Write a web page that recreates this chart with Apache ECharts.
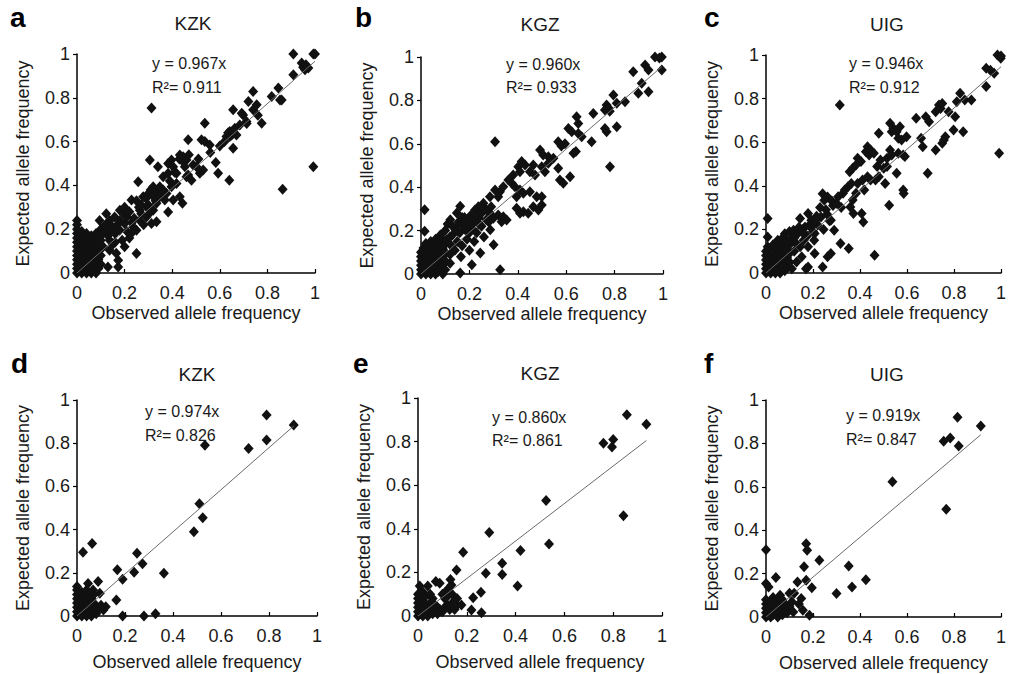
<!DOCTYPE html>
<html>
<head>
<meta charset="utf-8">
<script src="https://cdn.jsdelivr.net/npm/echarts@6/dist/echarts.min.js"></script>
<style>
html,body{margin:0;padding:0;background:#fff;}
#chart{width:1009px;height:674px;}
</style>
</head>
<body>
<div id="chart"></div>
<script>
// ---------- DATA ----------
const panelLetters = ['a','b','c','d','e','f'];
const populations = ['KZK','KGZ','UIG','KZK','KGZ','UIG'];
const slopes = [0.967, 0.960, 0.946, 0.974, 0.860, 0.919];
const r2Values = ['0.911','0.933','0.912','0.826','0.861','0.847'];
const axisTicks = [0, 0.2, 0.4, 0.6, 0.8, 1];

const pointsA = [
[0,0],[0,0.02],[0,0.04],[0,0.06],[0,0.08],[0,0.1],[0,0.12],[0,0.14],[0,0.16],[0,0.18],[0,0.2],[0,0.22],[0,0.24],
[0.01,0.01],[0.01,0.05],[0.01,0.09],[0.01,0.13],[0.01,0.17],
[0.02,0],[0.02,0.03],[0.02,0.07],[0.02,0.11],[0.02,0.15],[0.02,0.19],
[0.03,0.02],[0.03,0.05],[0.03,0.09],[0.03,0.12],[0.03,0.16],
[0.04,0],[0.04,0.04],[0.04,0.07],[0.04,0.1],[0.04,0.14],[0.04,0.18],
[0.05,0.01],[0.05,0.05],[0.05,0.08],[0.05,0.12],[0.05,0.16],
[0.06,0],[0.06,0.03],[0.06,0.07],[0.06,0.1],[0.06,0.14],[0.06,0.17],
[0.07,0.02],[0.07,0.05],[0.07,0.09],[0.07,0.12],[0.07,0.16],
[0.08,0],[0.08,0.04],[0.08,0.08],[0.08,0.11],[0.08,0.15],[0.08,0.18],
[0.09,0.02],[0.09,0.06],[0.09,0.1],[0.09,0.13],[0.09,0.17],
[0.1,0.04],[0.1,0.08],[0.1,0.12],[0.1,0.15],[0.1,0.2],
[0.095,0.24],[0.11,0.12],[0.11,0.18],[0.12,0.22],[0.123,0.27],[0.13,0.027],[0.13,0.17],[0.137,0.15],[0.137,0.24],[0.137,0.104],[0.14,0.2],[0.15,0.13],[0.158,0.256],[0.16,0.18],[0.165,0.09],[0.17,0.22],[0.173,0.027],[0.173,0.058],[0.18,0.195],[0.18,0.287],[0.19,0.15],[0.194,0.272],[0.2,0.226],[0.2,0.12],[0.21,0.256],[0.21,0.19],[0.22,0.16],[0.228,0.18],[0.236,0.21],[0.24,0.25],[0.229,0.333],[0.25,0.089],[0.25,0.195],[0.257,0.417],[0.26,0.3],[0.264,0.24],[0.264,0.287],[0.27,0.27],[0.278,0.348],[0.28,0.22],[0.292,0.256],[0.292,0.302],[0.3,0.363],[0.31,0.28],
[0.12,0.19],[0.15,0.21],[0.16,0.14],[0.18,0.24],[0.2,0.3],[0.22,0.28],[0.23,0.23],[0.25,0.33],[0.27,0.31],[0.29,0.34],[0.3,0.31],[0.31,0.38],[0.32,0.35],
[0.306,0.516],[0.313,0.753],[0.313,0.226],[0.32,0.394],[0.32,0.287],[0.33,0.33],[0.334,0.371],[0.334,0.234],[0.334,0.318],[0.34,0.485],[0.348,0.394],[0.35,0.35],[0.362,0.379],[0.362,0.44],[0.369,0.333],[0.376,0.363],[0.383,0.5],[0.383,0.455],[0.383,0.279],[0.39,0.42],[0.397,0.516],[0.397,0.394],[0.404,0.485],[0.404,0.333],[0.41,0.46],[0.418,0.455],[0.418,0.409],[0.43,0.52],[0.432,0.539],[0.432,0.348],[0.439,0.516],[0.443,0.318],[0.446,0.531],[0.453,0.485],[0.46,0.516],[0.46,0.44],[0.467,0.608],[0.467,0.447],[0.47,0.54],[0.481,0.424],[0.488,0.493],
[0.502,0.485],[0.51,0.52],[0.516,0.455],[0.523,0.608],[0.53,0.47],[0.537,0.684],[0.537,0.6],[0.558,0.585],[0.56,0.55],[0.583,0.505],[0.593,0.455],[0.6,0.58],[0.62,0.6],[0.628,0.623],[0.635,0.64],[0.64,0.424],[0.642,0.646],[0.642,0.623],[0.65,0.63],[0.656,0.57],[0.656,0.638],[0.656,0.745],[0.663,0.661],[0.67,0.63],[0.684,0.676],[0.692,0.729],[0.698,0.722],
[0.712,0.692],[0.713,0.683],[0.72,0.783],[0.74,0.829],[0.74,0.745],[0.755,0.768],[0.76,0.72],[0.776,0.684],[0.818,0.806],[0.846,0.845],[0.853,0.79],[0.86,0.79],[0.909,0.905],[0.944,0.959],[0.95,0.94],[0.962,0.951],[0.972,0.936],[0.958,0.928],[0.909,1.0],[0.993,1.0],[1.0,1.0],[0.864,0.382],[0.993,0.485]
];

const pointsB = [
[0,0],[0,0.02],[0,0.04],[0,0.06],[0,0.08],[0,0.1],[0.015,0.104],[0.015,0.197],[0.015,0.296],
[0.01,0.01],[0.01,0.03],[0.01,0.06],[0.01,0.09],[0.01,0.12],
[0.02,0],[0.02,0.02],[0.02,0.05],[0.02,0.08],[0.02,0.11],[0.02,0.14],
[0.03,0.01],[0.03,0.04],[0.03,0.07],[0.03,0.1],[0.03,0.13],
[0.04,0],[0.04,0.03],[0.04,0.06],[0.04,0.09],[0.04,0.12],[0.04,0.15],
[0.05,0.02],[0.05,0.05],[0.05,0.08],[0.05,0.11],[0.05,0.14],
[0.06,0],[0.06,0.03],[0.06,0.06],[0.06,0.1],[0.06,0.13],[0.06,0.16],
[0.07,0.01],[0.07,0.05],[0.07,0.08],[0.07,0.12],[0.07,0.15],
[0.08,0.03],[0.08,0.06],[0.08,0.081],[0.08,0.1],[0.08,0.14],[0.08,0.18],
[0.09,0],[0.09,0.04],[0.09,0.08],[0.09,0.12],[0.09,0.16],
[0.1,0.02],[0.1,0.06],[0.1,0.1],[0.1,0.14],[0.1,0.2],
[0.107,0.158],[0.11,0.23],[0.12,0.05],[0.12,0.09],[0.121,0.25],[0.125,0.13],[0.13,0.18],[0.14,0.21],[0.14,0.11],[0.148,0.281],[0.15,0.15],[0.155,0.24],[0.16,0.19],[0.162,0.005],[0.162,0.312],[0.165,0.08],[0.17,0.13],[0.175,0.22],[0.18,0.26],[0.183,0.204],[0.19,0.16],[0.195,0.24],[0.2,0.11],[0.2,0.19],[0.205,0.27],[0.21,0.043],[0.21,0.21],[0.217,0.235],[0.22,0.15],[0.223,0.295],[0.23,0.19],[0.237,0.31],[0.238,0.258],[0.244,0.28],[0.245,0.097],[0.25,0.22],[0.251,0.281],[0.258,0.326],[0.26,0.17],[0.271,0.295],[0.28,0.24],[0.285,0.28],[0.285,0.356],[0.286,0.204],[0.299,0.257],[0.3,0.135],
[0.12,0.17],[0.13,0.22],[0.15,0.2],[0.17,0.26],[0.19,0.22],[0.2,0.25],[0.22,0.26],[0.24,0.23],[0.26,0.3],[0.27,0.25],[0.29,0.31],
[0.306,0.387],[0.306,0.61],[0.319,0.356],[0.319,0.272],[0.326,0.379],[0.327,0.02],[0.333,0.241],[0.34,0.264],[0.34,0.402],[0.354,0.249],[0.361,0.433],[0.375,0.418],[0.381,0.456],[0.388,0.402],[0.395,0.356],[0.395,0.303],[0.402,0.494],[0.409,0.471],[0.409,0.387],[0.409,0.28],[0.416,0.518],[0.423,0.372],[0.423,0.287],[0.43,0.502],[0.443,0.28],[0.45,0.471],[0.45,0.379],[0.464,0.502],[0.464,0.31],[0.471,0.456],[0.478,0.356],[0.485,0.295],[0.492,0.571],[0.499,0.494],[0.499,0.356],[0.499,0.318],
[0.505,0.548],[0.512,0.471],[0.526,0.54],[0.526,0.51],[0.547,0.533],[0.567,0.487],[0.567,0.61],[0.574,0.433],[0.58,0.59],[0.588,0.418],[0.595,0.6],[0.609,0.671],[0.616,0.448],[0.623,0.656],[0.63,0.556],[0.64,0.565],[0.643,0.725],[0.65,0.694],[0.65,0.648],[0.664,0.633],
[0.705,0.61],[0.712,0.74],[0.76,0.756],[0.76,0.671],[0.767,0.779],[0.767,0.656],[0.775,0.765],[0.78,0.75],[0.781,0.494],[0.795,0.825],[0.809,0.787],[0.809,0.679],[0.843,0.794],[0.877,0.932],[0.898,0.833],[0.912,0.879],[0.926,0.963],[0.94,0.84],[0.94,0.94],[0.967,1.0],[0.985,0.995],[0.995,1.0],[0.995,0.94]
];

const pointsC = [
[0,0],[0,0.02],[0,0.04],[0,0.06],[0,0.08],[0,0.1],[0.007,0.12],[0.007,0.165],[0.007,0.25],
[0.01,0.01],[0.01,0.03],[0.01,0.06],[0.01,0.09],
[0.02,0],[0.02,0.02],[0.02,0.05],[0.02,0.08],[0.02,0.11],
[0.03,0.01],[0.03,0.04],[0.03,0.07],[0.03,0.1],[0.03,0.13],
[0.04,0],[0.04,0.03],[0.04,0.06],[0.04,0.09],[0.04,0.12],
[0.05,0.02],[0.05,0.05],[0.05,0.08],[0.05,0.11],[0.05,0.15],
[0.06,0],[0.06,0.04],[0.06,0.07],[0.06,0.1],[0.06,0.13],
[0.07,0.02],[0.07,0.05],[0.07,0.09],[0.07,0.12],[0.07,0.16],
[0.08,0.01],[0.08,0.06],[0.08,0.1],[0.083,0.135],[0.08,0.18],
[0.09,0.03],[0.09,0.07],[0.09,0.11],[0.09,0.15],
[0.1,0.05],[0.1,0.09],[0.1,0.13],[0.1,0.19],
[0.11,0.02],[0.11,0.16],[0.117,0.196],[0.12,0.1],[0.125,0.14],[0.13,0.05],[0.135,0.18],[0.145,0.25],[0.145,0.12],[0.152,0.074],[0.155,0.2],[0.16,0.15],[0.166,0.211],[0.17,0.02],[0.175,0.17],[0.179,0.273],[0.179,0.12],[0.179,0.028],[0.185,0.22],[0.193,0.242],[0.2,0.19],[0.205,0.15],[0.207,0.181],[0.207,0.089],[0.215,0.26],[0.22,0.22],[0.234,0.257],[0.241,0.364],[0.241,0.028],[0.245,0.2],[0.248,0.334],[0.255,0.29],[0.262,0.349],[0.262,0.074],[0.27,0.24],[0.276,0.242],[0.276,0.089],[0.285,0.31],[0.29,0.196],
[0.12,0.16],[0.14,0.21],[0.16,0.18],[0.19,0.21],[0.21,0.24],[0.23,0.3],[0.26,0.27],[0.28,0.33],[0.3,0.32],
[0.307,0.35],[0.314,0.771],[0.317,0.135],[0.32,0.3],[0.328,0.366],[0.335,0.381],[0.349,0.396],[0.352,0.112],[0.356,0.465],[0.359,0.303],[0.363,0.411],[0.369,0.48],[0.369,0.335],[0.372,0.273],[0.383,0.495],[0.383,0.366],[0.39,0.526],[0.39,0.411],[0.404,0.511],[0.407,0.273],[0.411,0.427],[0.414,0.234],[0.418,0.381],[0.425,0.556],[0.432,0.579],[0.432,0.442],[0.439,0.541],[0.445,0.564],[0.445,0.427],[0.459,0.549],[0.462,0.081],[0.466,0.427],[0.473,0.488],[0.48,0.641],[0.48,0.442],[0.487,0.518],[0.501,0.48],[0.507,0.411],
[0.515,0.526],[0.515,0.488],[0.524,0.311],[0.528,0.687],[0.528,0.564],[0.535,0.648],[0.535,0.541],[0.542,0.664],[0.556,0.648],[0.556,0.457],[0.563,0.618],[0.563,0.549],[0.57,0.671],[0.577,0.61],[0.584,0.541],[0.584,0.381],[0.586,0.365],[0.591,0.534],[0.598,0.625],[0.639,0.71],[0.66,0.618],[0.667,0.579],[0.68,0.717],[0.688,0.457],[0.694,0.694],
[0.722,0.74],[0.722,0.564],[0.736,0.771],[0.743,0.755],[0.75,0.778],[0.75,0.595],[0.757,0.61],[0.763,0.625],[0.777,0.74],[0.798,0.656],[0.805,0.717],[0.812,0.786],[0.826,0.824],[0.839,0.648],[0.846,0.794],[0.874,0.794],[0.937,0.855],[0.937,0.939],[0.955,0.93],[0.971,0.916],[0.985,1.0],[0.992,0.549],[0.999,0.985],[1.0,0.995]
];

const pointsD = [
[0,0],[0,0.02],[0,0.04],[0,0.06],[0,0.08],[0,0.1],[0,0.12],[0,0.136],
[0.01,0.01],[0.01,0.05],[0.01,0.09],
[0.02,0],[0.02,0.03],[0.02,0.07],[0.02,0.11],
[0.025,0.295],
[0.03,0.02],[0.03,0.05],[0.03,0.09],
[0.04,0],[0.04,0.04],[0.04,0.08],[0.04,0.12],
[0.046,0.15],
[0.05,0.02],[0.05,0.06],[0.05,0.1],
[0.06,0],[0.06,0.04],[0.06,0.08],[0.063,0.336],
[0.067,0.12],
[0.07,0.02],[0.07,0.06],[0.07,0.1],
[0.08,0.01],[0.08,0.04],
[0.088,0.16],[0.095,0.105],
[0.09,0.03],[0.1,0.05],[0.11,0.028],[0.12,0.043],
[0.164,0.074],[0.168,0.214],[0.19,0.17],[0.19,0],[0.238,0.203],[0.25,0.29],[0.273,0.242],[0.279,0],[0.327,0.01],[0.362,0.198],[0.487,0.39],[0.51,0.52],[0.524,0.455],[0.533,0.79],[0.715,0.776],[0.79,0.93],[0.79,0.815],[0.903,0.884]
];

const pointsE = [
[0,0],[0,0.02],[0,0.04],[0,0.06],[0,0.08],[0,0.1],[0.007,0.138],
[0.01,0.01],[0.01,0.05],[0.01,0.09],
[0.02,0],[0.02,0.03],[0.02,0.07],[0.02,0.11],
[0.03,0.02],[0.03,0.05],[0.03,0.09],
[0.04,0],[0.04,0.04],[0.04,0.138],
[0.05,0.02],[0.05,0.06],[0.05,0.1],
[0.06,0.01],[0.06,0.04],[0.06,0.08],
[0.07,0.02],[0.07,0.05],[0.073,0.158],
[0.08,0.01],[0.08,0.04],[0.089,0.15],
[0.09,0.03],[0.1,0.02],[0.1,0.1],[0.11,0.08],[0.11,0.04],[0.12,0.05],[0.12,0.12],[0.12,0.09],[0.13,0.03],
[0.133,0.168],[0.137,0.142],[0.14,0.06],[0.14,0.1],[0.15,0.03],[0.158,0.211],[0.16,0.05],[0.16,0.08],[0.178,0.05],[0.185,0.292],[0.219,0.028],[0.226,0.084],[0.258,0.109],[0.26,0.015],[0.278,0.196],[0.292,0.383],[0.345,0.242],[0.345,0.19],[0.408,0.138],[0.42,0.3],[0.525,0.53],[0.537,0.33],[0.76,0.793],[0.795,0.775],[0.8,0.81],[0.842,0.46],[0.856,0.923],[0.936,0.88]
];

const pointsF = [
[0,0],[0,0.02],[0,0.04],[0,0.06],[0,0.08],[0,0.154],[0,0.31],[0.011,0.138],
[0.01,0.01],[0.01,0.05],
[0.02,0],[0.02,0.03],[0.02,0.07],
[0.03,0.01],[0.03,0.05],[0.03,0.09],
[0.04,0.02],[0.04,0.06],[0.042,0.182],
[0.05,0],[0.05,0.04],[0.05,0.08],
[0.06,0.02],[0.06,0.06],[0.06,0.1],
[0.07,0.01],[0.07,0.04],[0.07,0.08],
[0.08,0.03],[0.08,0.06],
[0.09,0.02],[0.1,0.05],[0.1,0.11],[0.11,0.07],[0.116,0.023],[0.12,0.11],[0.134,0.161],[0.14,0.06],[0.15,0.085],[0.157,0.031],[0.162,0.231],[0.171,0.338],[0.175,0.308],[0.171,0.169],[0.185,0.008],[0.195,0.135],[0.227,0.262],[0.3,0.108],[0.352,0.235],[0.366,0.138],[0.425,0.172],[0.538,0.623],[0.756,0.81],[0.767,0.497],[0.784,0.825],[0.815,0.92],[0.82,0.788],[0.914,0.88]
];

const allPoints = [pointsA, pointsB, pointsC, pointsD, pointsE, pointsF];

// ---------- LAYOUT ----------
const FONT = '"Liberation Sans", Arial, sans-serif';
const TXT = '#1a1a1a';
const grids = [
  {left:77, top:54, width:238, height:219},
  {left:421, top:57, width:242, height:217},
  {left:766, top:55, width:241, height:218},
  {left:77, top:400, width:240, height:216},
  {left:418, top:398, width:244, height:218},
  {left:766, top:400, width:240, height:217}
];
const letterPos = [[10,17],[355,17],[704,17],[11,363],[353,363],[704,363]];
const titlePos = [[193,23.5],[540,24],[887,24],[197,374],[540,373],[887,374]];
const eqPos = [[152,63,87],[506,64,87],[849,63,87],[145,411,435],[492,417,440],[846,415,439]];
const xNameGap = [31,31,31,37,37,37];

const xAxes = [], yAxes = [], series = [], graphics = [];
grids.forEach((g, i) => {
  xAxes.push({
    gridIndex:i, type:'value', min:0, max:1, interval:0.2,
    axisLine:{show:true, onZero:false, lineStyle:{color:'#000', width:1.5}},
    axisTick:{show:true, inside:true, length:4, lineStyle:{color:'#000', width:1.2}},
    axisLabel:{fontSize:18, color:TXT, margin:11, fontFamily:FONT},
    splitLine:{show:false},
    name:'Observed allele frequency', nameLocation:'middle', nameGap:xNameGap[i],
    nameTextStyle:{fontSize:18, color:TXT, fontFamily:FONT}
  });
  yAxes.push({
    gridIndex:i, type:'value', min:0, max:1, interval:0.2,
    axisLine:{show:true, onZero:false, lineStyle:{color:'#000', width:1.5}},
    axisTick:{show:true, inside:false, length:4, lineStyle:{color:'#000', width:1.2}},
    axisLabel:{fontSize:18, color:TXT, margin:7, fontFamily:FONT},
    splitLine:{show:false},
    name:'Expected allele frequency', nameLocation:'middle', nameRotate:90, nameGap:45,
    nameTextStyle:{fontSize:18, color:TXT, fontFamily:FONT}
  });
  const pts = allPoints[i];
  series.push({
    type:'scatter', xAxisIndex:i, yAxisIndex:i, data:pts,
    symbol:'diamond', symbolSize:[10,11],
    itemStyle:{color:'#111', opacity:1}, silent:true, z:2
  });
  const xmax = Math.max(...pts.map(p => p[0]));
  series.push({
    type:'line', xAxisIndex:i, yAxisIndex:i,
    data:[[0,0],[xmax, slopes[i]*xmax]],
    showSymbol:false, symbol:'none',
    lineStyle:{color:'#6a6a6a', width:1}, silent:true, z:3
  });
  graphics.push({type:'text', left:letterPos[i][0], top:letterPos[i][1]-14,
    style:{text:panelLetters[i], font:'bold 28px ' + FONT, fill:'#000'}});
  graphics.push({type:'text', x:titlePos[i][0], y:titlePos[i][1],
    style:{text:populations[i], font:'19px ' + FONT, fill:TXT, textAlign:'center', textVerticalAlign:'middle'}});
  graphics.push({type:'text', x:eqPos[i][0], y:eqPos[i][1],
    style:{text:'y = ' + slopes[i].toFixed(3) + 'x', font:'16px ' + FONT, fill:TXT, textAlign:'left', textVerticalAlign:'middle'}});
  graphics.push({type:'text', x:eqPos[i][0], y:eqPos[i][2],
    style:{text:'R\u00B2= ' + r2Values[i], font:'16px ' + FONT, fill:TXT, textAlign:'left', textVerticalAlign:'middle'}});
});

const chart = echarts.init(document.getElementById('chart'), null, {renderer:'svg'});
chart.setOption({
  backgroundColor:'#fff',
  animation:false,
  grid:grids,
  xAxis:xAxes,
  yAxis:yAxes,
  series:series,
  graphic:graphics
});
</script>
</body>
</html>
